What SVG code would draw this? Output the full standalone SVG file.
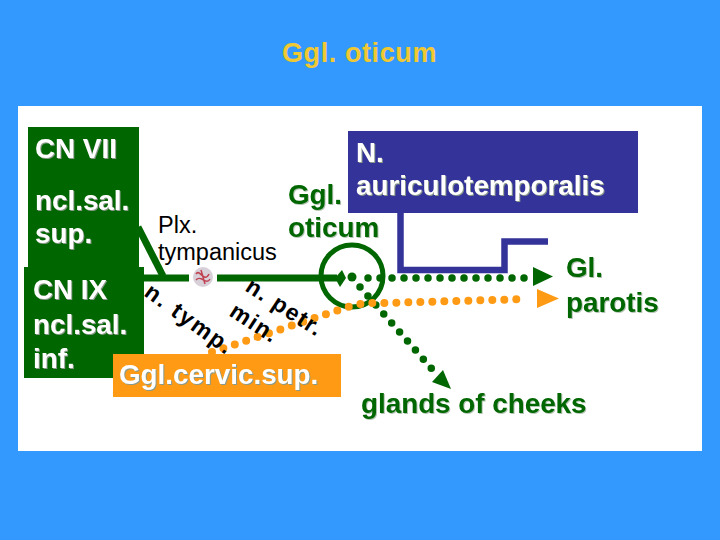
<svg xmlns="http://www.w3.org/2000/svg" width="720" height="540" viewBox="0 0 720 540">
<style>
text{font-family:"Liberation Sans",Arial,sans-serif}
.b{font-weight:700;font-size:27.8px}
.w{fill:#fff;filter:drop-shadow(1.5px 1.5px 0 #8a9a8a)}
.g{fill:#006600;filter:drop-shadow(1.5px 1.5px 0 #b4c4b4)}
.k{fill:#000;font-weight:700;font-size:23px}
.dg{fill:none;stroke:#006600;stroke-width:7.500;stroke-linecap:round;stroke-dasharray:0 12}
.do{fill:none;stroke:#ff9a14;stroke-width:8;stroke-linecap:round;stroke-dasharray:0 12}
.sol{fill:none;stroke:#006600;stroke-width:7}
.blu{fill:none;stroke:#333399;stroke-width:6.500}
</style>
<rect width="720" height="540" fill="#3399ff"/>
<rect x="18" y="106" width="684" height="345" fill="#fff"/>
<text id="title" x="359.500" y="62" text-anchor="middle" font-size="27" font-weight="700" letter-spacing="0.600" fill="#f0c832">Ggl. oticum</text>
<g id="connectors">
<path class="sol" d="M138 227L163 276"/>
<path class="sol" d="M144 278H189M217 278H337"/>
<path d="M335 278L342 270L346 278L340 287Z" fill="#006600"/>
<circle cx="352" cy="276" r="31" fill="none" stroke="#006600" stroke-width="5"/>
<circle cx="352" cy="277" r="4.500" fill="#006600"/>
<path class="blu" d="M400.500 213V270H504.500V241.500H548"/>
<path class="dg" d="M368 278H528"/>
<path d="M533 267L553 276.500L533 286Z" fill="#006600"/>
<path class="dg" d="M360 287L432 369"/>
<path d="M432 382L443 370L451 389Z" fill="#006600"/>
<path class="do" d="M212 352L348 307C360 303 370 303 383 303L527 299"/>
<path d="M537 289L559 298.500L537 308Z" fill="#ff9a14"/>
</g>
<g id="plexus">
<circle cx="203" cy="277" r="10" fill="#d8d0d8"/>
<path d="M196 274C200 268 204 284 209 274M196 280C201 274 206 286 210 279M201 270L205 284" fill="none" stroke="#c04050" stroke-width="1.500"/>
</g>
<g id="cn7">
<rect x="28" y="127" width="111" height="141" fill="#006600"/>
<text class="b w" x="35" y="158">CN VII</text>
<text class="b w" x="35" y="210">ncl.sal.</text>
<text class="b w" x="35" y="243">sup.</text>
</g>
<g id="cn9">
<rect x="24" y="267" width="120" height="111" fill="#006600"/>
<text class="b w" x="33" y="299">CN IX</text>
<text class="b w" x="33" y="334">ncl.sal.</text>
<text class="b w" x="33" y="368">inf.</text>
</g>
<g id="cervic">
<rect x="113" y="354" width="228" height="43" fill="#ff9a14"/>
<text class="b w" x="119" y="384">Ggl.cervic.sup.</text>
</g>
<g id="auriculo">
<rect x="348" y="131" width="290" height="82" fill="#333399"/>
<text class="b w" x="356" y="162">N.</text>
<text class="b w" x="356" y="195">auriculotemporalis</text>
</g>
<g id="oticum">
<text class="b g" x="288" y="204">Ggl.</text>
<text class="b g" x="288" y="237">oticum</text>
</g>
<g id="plx">
<text x="158" y="233" font-size="23.500">Plx.</text>
<text x="158" y="260" font-size="23.500">tympanicus</text>
</g>
<g id="labels">
<text class="k" transform="translate(143 295) rotate(36)" letter-spacing="2">n. tymp.</text>
<text class="k" transform="translate(244 290) rotate(33)" letter-spacing="1.500">n. petr.</text>
<text class="k" transform="translate(228 315) rotate(33)" letter-spacing="1.500">min.</text>
</g>
<g id="parotis">
<text class="b g" x="566" y="277">Gl.</text>
<text class="b g" x="566" y="312">parotis</text>
</g>
<g id="cheeks">
<text class="b g" x="361" y="413">glands of cheeks</text>
</g>
</svg>
